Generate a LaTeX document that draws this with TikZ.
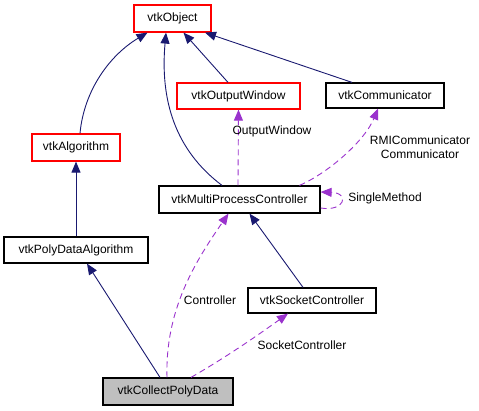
\documentclass[tikz,border=0pt]{standalone}
\usepackage{fontspec}
\setmainfont{Liberation Sans}
\usetikzlibrary{arrows.meta}
\definecolor{navyedge}{HTML}{191970}
\definecolor{purpedge}{HTML}{9A32CD}
\definecolor{grayfill}{HTML}{BFBFBF}
\tikzset{
  cls/.style={draw=black, line width=1.2pt, rectangle, inner sep=0pt, font=\fontsize{12}{14}\selectfont, fill=white},
  redcls/.style={cls, draw=red},
  inh/.style={draw=navyedge, line width=0.9pt, -{Triangle[length=11pt,width=9pt]}},
  use/.style={draw=purpedge, line width=0.9pt, dash pattern=on 6pt off 4pt, -{Triangle[length=11pt,width=9pt]}},
  lbl/.style={font=\fontsize{12}{14}\selectfont, align=center, inner sep=0pt}
}
\begin{document}
\begin{tikzpicture}[x=1pt,y=-1pt]
\useasboundingbox (0,0) rectangle (479,411);
\node[redcls, minimum width=77, minimum height=27] (obj) at (172.5,18.5) {vtkObject};
\node[redcls, minimum width=123, minimum height=26] (ow) at (238.5,96) {vtkOutputWindow};
\node[cls, minimum width=118, minimum height=25] (comm) at (385,95.5) {vtkCommunicator};
\node[redcls, minimum width=88, minimum height=27] (alg) at (76,147.5) {vtkAlgorithm};
\node[cls, minimum width=144, minimum height=26] (pda) at (76,250) {vtkPolyDataAlgorithm};
\node[cls, minimum width=161, minimum height=27] (mpc) at (239.5,199.5) {vtkMultiProcessController};
\node[cls, minimum width=128, minimum height=25] (sock) at (312,300.5) {vtkSocketController};
\node[cls, fill=grayfill, minimum width=130, minimum height=27] (cpd) at (168,391.5) {vtkCollectPolyData};

% inheritance
\draw[inh] ([xshift=4pt]alg.north) .. controls (84,90) and (110,55) .. ([xshift=-25pt]obj.south);
\draw[inh] ([xshift=-17.5pt]mpc.north) .. controls (175,150) and (160,100) .. ([xshift=-6.5pt]obj.south);
\draw[inh] ([xshift=-10.5pt]ow.north) -- ([xshift=11pt]obj.south);
\draw[inh] ([xshift=-33pt]comm.north) -- ([xshift=32.5pt]obj.south);
\draw[inh] (pda.north) -- (alg.south);
\draw[inh] ([xshift=-8pt]cpd.north) -- ([xshift=11pt]pda.south);
\draw[inh] ([xshift=-9pt]sock.north) -- ([xshift=10pt]mpc.south);

% usage
\draw[use] ([xshift=-1.5pt]mpc.north) -- (ow.south);
\node[lbl] (lowin) at (272,131) {OutputWindow};
\draw[use] ([xshift=60pt]mpc.north) .. controls (330,172) and (365,140) .. ([xshift=-7pt]comm.south);
\node[lbl] (lcomm) at (420,147) {RMICommunicator\\Communicator};
\draw[use] ([yshift=-8.5pt]mpc.east) .. controls (345,212) and (350,193) .. ([yshift=7.5pt]mpc.east);
\node[lbl] (lsingle) at (385,198.5) {SingleMethod};
\draw[use] ([xshift=-1pt]cpd.north) .. controls (165,310) and (195,262) .. ([xshift=-11pt]mpc.south);
\node[lbl] (lctrl) at (210,300) {Controller};
\draw[use] ([xshift=23pt]cpd.north) .. controls (230,355) and (265,330) .. ([xshift=-24pt]sock.south);
\node[lbl] (lsock) at (302,345) {SocketController};
\end{tikzpicture}
\end{document}
